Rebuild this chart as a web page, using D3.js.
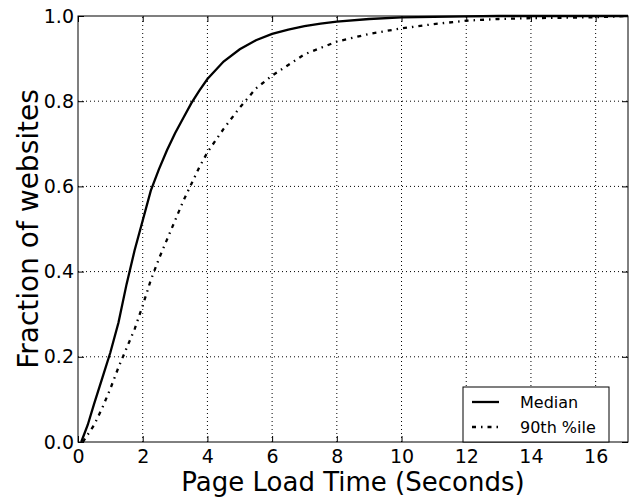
<!DOCTYPE html>
<html>
<head>
<meta charset="utf-8">
<script src="https://cdn.jsdelivr.net/npm/d3@7"></script>
<style>
  body { margin: 0; background: #fff; }
  text { font-family: "DejaVu Sans", sans-serif; fill: #000; }
</style>
</head>
<body>
<div id="chart"></div>
<script>
// load times (seconds) and cumulative fraction of websites
const medianTime = [0.1, 0.3, 0.5, 0.75, 1.0, 1.25, 1.5, 1.75, 2.0, 2.25, 2.5, 2.75, 3.0, 3.25, 3.5, 3.75, 4.0, 4.5, 5.0, 5.5, 6.0, 6.5, 7.0, 7.5, 8.0, 9.0, 10, 11, 12, 13, 17];
const medianFrac = [0, 0.04, 0.09, 0.15, 0.21, 0.28, 0.37, 0.45, 0.52, 0.59, 0.64, 0.685, 0.725, 0.76, 0.795, 0.825, 0.852, 0.893, 0.922, 0.943, 0.958, 0.968, 0.976, 0.982, 0.987, 0.993, 0.997, 0.998, 0.999, 1.0, 1.0];

const p90Time = [0.15, 0.5, 0.75, 1.0, 1.25, 1.5, 1.75, 2.0, 2.25, 2.5, 2.75, 3.0, 3.25, 3.5, 3.75, 4.0, 4.5, 5.0, 5.5, 6.0, 6.5, 7.0, 7.5, 8.0, 9.0, 10, 11, 12, 13, 14, 15, 16, 17];
const p90Frac = [0, 0.04, 0.08, 0.125, 0.175, 0.22, 0.265, 0.32, 0.38, 0.43, 0.475, 0.52, 0.565, 0.605, 0.645, 0.68, 0.735, 0.785, 0.83, 0.86, 0.885, 0.91, 0.925, 0.94, 0.958, 0.971, 0.981, 0.989, 0.993, 0.995, 0.996, 0.997, 1.0];

const xTicks = [0, 2, 4, 6, 8, 10, 12, 14, 16];
const yTicks = [0, 0.2, 0.4, 0.6, 0.8, 1.0];
const seriesNames = ["Median", "90th %ile"];

const width = 629, height = 498;
const margin = { top: 16, right: 1, bottom: 56, left: 78 };

const svg = d3.select("#chart").append("svg")
    .attr("width", width)
    .attr("height", height);

const x = d3.scaleLinear().domain([0, 17]).range([margin.left, width - margin.right]);
const y = d3.scaleLinear().domain([0, 1]).range([height - margin.bottom, margin.top]);

// grid
svg.append("g")
    .selectAll("line")
    .data(xTicks.slice(1))
    .enter().append("line")
    .attr("x1", d => x(d)).attr("x2", d => x(d))
    .attr("y1", y(0)).attr("y2", y(1))
    .attr("stroke", "#000").attr("stroke-width", 1)
    .attr("stroke-dasharray", "1,3");

svg.append("g")
    .selectAll("line")
    .data(yTicks.slice(1, -1))
    .enter().append("line")
    .attr("x1", x(0)).attr("x2", x(17))
    .attr("y1", d => y(d)).attr("y2", d => y(d))
    .attr("stroke", "#000").attr("stroke-width", 1)
    .attr("stroke-dasharray", "1,3");

// axes with inward ticks
svg.append("g")
    .attr("transform", `translate(0,${y(0)})`)
    .call(d3.axisBottom(x).tickValues(xTicks).tickSizeInner(-6).tickSizeOuter(0).tickPadding(8).tickFormat(d3.format("d")))
    .call(g => g.select(".domain").remove())
    .call(g => g.selectAll("text").attr("font-size", 19).attr("font-family", "DejaVu Sans"));

svg.append("g")
    .attr("transform", `translate(${x(0)},0)`)
    .call(d3.axisLeft(y).tickValues(yTicks).tickSizeInner(-6).tickSizeOuter(0).tickPadding(4).tickFormat(d3.format(".1f")))
    .call(g => g.select(".domain").remove())
    .call(g => g.selectAll("text").attr("font-size", 19).attr("font-family", "DejaVu Sans"));

svg.append("g")
    .attr("transform", `translate(0,${y(1)})`)
    .call(d3.axisTop(x).tickValues(xTicks).tickSizeInner(-6).tickSizeOuter(0).tickFormat(""))
    .call(g => g.select(".domain").remove());

svg.append("g")
    .attr("transform", `translate(${x(17)},0)`)
    .call(d3.axisRight(y).tickValues(yTicks).tickSizeInner(-6).tickSizeOuter(0).tickFormat(""))
    .call(g => g.select(".domain").remove());

const line = d3.line().x(d => x(d[0])).y(d => y(d[1]));

svg.append("path")
    .datum(d3.zip(medianTime, medianFrac))
    .attr("fill", "none")
    .attr("stroke", "#000")
    .attr("stroke-width", 2.3)
    .attr("d", line);

svg.append("path")
    .datum(d3.zip(p90Time, p90Frac))
    .attr("fill", "none")
    .attr("stroke", "#000")
    .attr("stroke-width", 2.3)
    .attr("stroke-dasharray", "4,5,1.5,5")
    .attr("d", line);

// frame
svg.append("rect")
    .attr("x", x(0)).attr("y", y(1))
    .attr("width", x(17) - x(0)).attr("height", y(0) - y(1))
    .attr("fill", "none").attr("stroke", "#000").attr("stroke-width", 1);

// axis titles
svg.append("text")
    .attr("x", (x(0) + x(17)) / 2)
    .attr("y", height - 7)
    .attr("text-anchor", "middle")
    .attr("font-size", 26)
    .text("Page Load Time (Seconds)");

svg.append("text")
    .attr("transform", "rotate(-90)")
    .attr("x", -(y(0) + y(1)) / 2)
    .attr("y", 38)
    .attr("text-anchor", "middle")
    .attr("font-size", 28)
    .text("Fraction of websites");

// legend
const legend = svg.append("g").attr("transform", `translate(463,${y(0) - 55})`);
legend.append("rect")
    .attr("width", 146).attr("height", 55)
    .attr("fill", "#fff").attr("stroke", "#000").attr("stroke-width", 1);

const dashes = [null, "4,5,1.5,5"];
seriesNames.forEach((name, i) => {
    legend.append("line")
        .attr("x1", 9).attr("x2", 36)
        .attr("y1", 15 + i * 25).attr("y2", 15 + i * 25)
        .attr("stroke", "#000").attr("stroke-width", 2.3)
        .attr("stroke-dasharray", dashes[i]);
    legend.append("text")
        .attr("x", 57)
        .attr("y", 15 + i * 25)
        .attr("dy", "0.35em")
        .attr("font-size", 16)
        .text(name);
});
</script>
</body>
</html>
